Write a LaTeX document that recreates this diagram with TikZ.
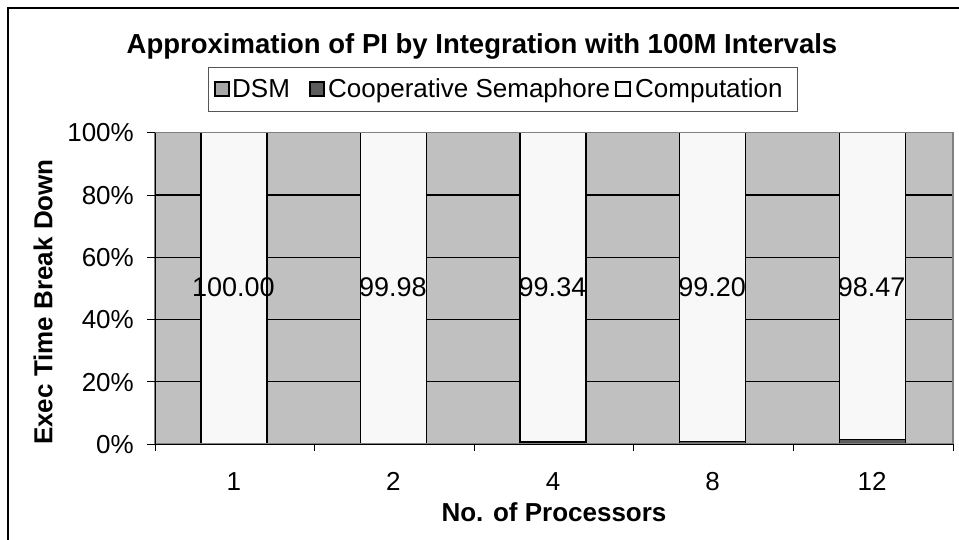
\documentclass[tikz,border=0pt]{standalone}
\usepackage{fontspec}
\setmainfont{Liberation Sans}
\definecolor{plotbg}{HTML}{C0C0C0}
\definecolor{dsmfill}{HTML}{A6A6A6}
\definecolor{semfill}{HTML}{5C5C5C}
\definecolor{compfill}{HTML}{F8F8F8}
\definecolor{plotedge}{HTML}{808080}
\definecolor{legedge}{HTML}{555555}
\begin{document}
\begin{tikzpicture}[x=1pt,y=-1pt,
  txt/.style={font=\fontsize{26}{31}\selectfont,inner sep=0pt},
  boldtxt/.style={font=\fontsize{26}{31}\selectfont\bfseries,inner sep=0pt},
  datalbl/.style={font=\fontsize{27}{32}\selectfont,inner sep=0pt,anchor=base},
  keybox/.style={draw=black,line width=1.1pt,minimum size=14pt,inner sep=0pt},
  barline/.style={draw=black,line width=1.4pt},
  gridline/.style={black,line width=1.3pt},
  tickline/.style={black,line width=0.8pt}]
\clip (0,0) rectangle (959,540);
\fill[white] (0,0) rectangle (959,540);
% chart frame (continues past the right and bottom edges)
\draw[line width=1.6pt] (8,560) -- (8,8) -- (980,8);

% title
\node[font=\fontsize{27.5}{32}\selectfont\bfseries,inner sep=0pt,anchor=base]
  (title) at (482,54) {Approximation of PI by Integration with 100M Intervals};

% legend
\draw[legedge,line width=1pt] (208,67.7) rectangle (797.5,111.7);
\node[keybox,fill=dsmfill]  (kdsm)  at (222,89) {};
\node[txt,anchor=base west] (ldsm)  at (232,97.5) {DSM};
\node[keybox,fill=semfill]  (ksem)  at (317,89) {};
\node[txt,anchor=base west] (lsem)  at (328,97.5) {Cooperative Semaphore};
\node[keybox,fill=compfill] (kcomp) at (623,89) {};
\node[txt,anchor=base west] (lcomp) at (635,97.5) {Computation};

% plot area
\def\pl{155}\def\pr{953}\def\pt{132.7}\def\pb{444}
\fill[plotbg] (\pl,\pt) rectangle (\pr,\pb);
\foreach \k in {1,2,3,4}
  \draw[gridline] (\pl,{\pb-62.26*\k}) -- (\pr,{\pb-62.26*\k});

% stacked bars: category index, DSM share, semaphore share (in %)
\foreach \i/\d/\s in {0/0/0, 1/0.01/0.01, 2/0.1/0.56, 3/0.1/0.70, 4/0.2/1.33} {
  \pgfmathsetmacro{\cx}{\pl+159.6*(\i+0.5)-1}
  \pgfmathsetmacro{\ya}{\pb-3.113*\d}
  \pgfmathsetmacro{\yb}{\ya-3.113*\s}
  \fill[compfill] (\cx-33,\pt) rectangle (\cx+33,\pb);
  \draw[barline,fill=dsmfill] (\cx-33,\pb) rectangle (\cx+33,\ya);
  \draw[barline,fill=semfill] (\cx-33,\ya) rectangle (\cx+33,\yb);
  \draw[barline] (\cx-33,\pt) rectangle (\cx+33,\pb);
}
\draw[plotedge,line width=1.5pt] (\pl,\pt) rectangle (\pr,\pb);

% axes and ticks
\draw[tickline] (\pl,\pt) -- (\pl,\pb) -- (\pr,\pb);
\foreach \k/\lab in {0/0\%,1/20\%,2/40\%,3/60\%,4/80\%,5/100\%} {
  \draw[tickline] (147,{\pb-62.26*\k}) -- (\pl,{\pb-62.26*\k});
  \node[txt,anchor=base east] (y\k) at (134,{\pb-62.26*\k+9.3}) {\lab};
}
\foreach \k in {0,...,5}
  \draw[tickline] ({\pl+159.6*\k},\pb) -- ({\pl+159.6*\k},451);
\foreach \i/\lab in {0/1,1/2,2/4,3/8,4/12}
  \node[txt,anchor=base] (x\i) at ({\pl+159.6*(\i+0.5)-1},490.7) {\lab};

% data labels (computation share)
\foreach \i/\v in {0/100.00,1/99.98,2/99.34,3/99.20,4/98.47}
  \node[datalbl] (d\i) at ({\pl+159.6*(\i+0.5)-1.5},296.5) {\v};

% axis titles
\node[boldtxt,anchor=base] (xtitle) at (554,521) {No. of Processors};
\node[boldtxt,rotate=90] (ytitle) at (43,302) {Exec Time Break Down};
\end{tikzpicture}
\end{document}
